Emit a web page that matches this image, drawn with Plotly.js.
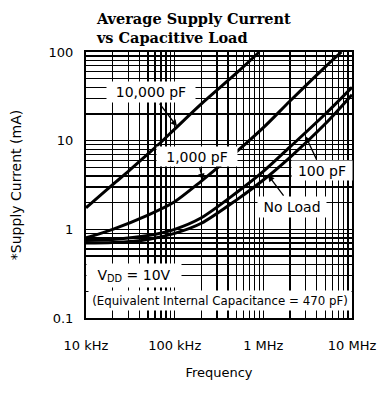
<!DOCTYPE html>
<html>
<head>
<meta charset="utf-8">
<script src="https://cdn.plot.ly/plotly-3.0.1.min.js"></script>
<style>html,body{margin:0;padding:0;background:#fff;}#chart{width:382px;height:394px;}</style>
</head>
<body>
<div id="chart"></div>
<script>
// Frequencies (Hz) and supply current (mA)
const freq10000 = [1e4, 2e4, 3e4, 5e4, 7e4, 1e5, 2e5, 5e5, 9e5];
const cur10000  = [1.75, 3.2, 4.5, 7.1, 9.6, 13.5, 26, 58, 100];

const freq1000 = [1e4, 2e4, 5e4, 1e5, 2e5, 5e5, 1e6, 2e6, 5e6, 7.6e6];
const cur1000  = [0.8, 1.0, 1.45, 2.05, 3.5, 7.5, 14, 28, 68, 100];

const freq100 = [1e4, 2e4, 5e4, 1e5, 2e5, 5e5, 1e6, 2e6, 5e6, 1e7];
const cur100  = [0.75, 0.77, 0.85, 1.0, 1.35, 2.6, 4.5, 8.5, 20, 40];

const freqNoLoad = [1e4, 2e4, 5e4, 1e5, 2e5, 5e5, 1e6, 2e6, 5e6, 1e7];
const curNoLoad  = [0.70, 0.71, 0.77, 0.9, 1.17, 2.15, 3.6, 6.5, 15.5, 33];

const xTickDecades = [1e4, 1e5, 1e6, 1e7];
const xTickLabels = ['10 kHz', '100 kHz', '1 MHz', '10 MHz'];
const yTickDecades = [0.1, 1, 10, 100];
const yTickLabels = ['0.1', '1', '10', '100'];

function gridVals(decades) {
  const v = [];
  for (let i = 0; i < decades.length - 1; i++) {
    for (let k = 1; k <= 9; k++) v.push(decades[i] * k);
  }
  v.push(decades[decades.length - 1]);
  return v;
}
function gridText(vals, decades, labels) {
  return vals.map(v => {
    const idx = decades.findIndex(d => Math.abs(d - v) / d < 1e-9);
    return idx >= 0 ? labels[idx] : '';
  });
}
const xVals = gridVals(xTickDecades);
const yVals = gridVals(yTickDecades);

const lineStyle = {color: '#000', width: 3, shape: 'spline', smoothing: 0.8};
const traces = [
  {x: freq10000, y: cur10000, mode: 'lines', line: lineStyle, name: '10,000 pF'},
  {x: freq1000, y: cur1000, mode: 'lines', line: lineStyle, name: '1,000 pF'},
  {x: freq100, y: cur100, mode: 'lines', line: lineStyle, name: '100 pF'},
  {x: freqNoLoad, y: curNoLoad, mode: 'lines', line: lineStyle, name: 'No Load'}
];

const lblFont = {family: 'DejaVu Sans', size: 14, color: '#000'};
function label(text, x, y, w, h, size) {
  return {text: text, x: x, y: y, xref: 'x', yref: 'y', showarrow: false,
          bgcolor: '#fff', width: w, height: h, borderpad: 0,
          font: Object.assign({}, lblFont, size ? {size: size} : {})};
}
// label with arrow: tip at (x, y) in log data units, label centre offset (ax, ay) px
function pointer(text, x, y, ax, ay, w, h) {
  return {text: text, x: x, y: y, xref: 'x', yref: 'y', showarrow: true,
          ax: ax, ay: ay, arrowhead: 2, arrowsize: 1, arrowwidth: 1.3,
          arrowcolor: '#000', standoff: 0, startstandoff: 1,
          bgcolor: '#fff', width: w, height: h, borderpad: 0, font: lblFont};
}

const annotations = [
  pointer('10,000 pF', Math.log10(1.06e5), Math.log10(14.5), -26, -34, 88, 20),
  pointer('1,000 pF', Math.log10(2.08e5), Math.log10(3.6), -6, -24, 80, 19),
  pointer('100 pF', Math.log10(3.0e6), Math.log10(11.2), 16, 34, 60, 19),
  pointer('No Load', Math.log10(1.13e6), Math.log10(4.1), 24, 32, 68, 20),
  label('V<sub>DD</sub> = 10V', 4.541, -0.525, 94, 23),
  label('(Equivalent Internal Capacitance = 470 pF)', 5.511, -0.807, 262, 19, 11.8)
];

const layout = {
  width: 382, height: 394,
  margin: {l: 86, r: 30, t: 52, b: 76},
  paper_bgcolor: '#fff', plot_bgcolor: '#fff',
  showlegend: false,
  font: {family: 'DejaVu Sans', color: '#000'},
  title: {
    text: 'Average Supply Current<br>vs Capacitive Load',
    font: {family: 'DejaVu Serif', size: 14.5, weight: 'bold', color: '#000'},
    xref: 'paper', x: 0.041, xanchor: 'left',
    yref: 'container', y: 0.939, yanchor: 'top'
  },
  xaxis: {
    type: 'log', range: [4, 7],
    tickvals: xVals, ticktext: gridText(xVals, xTickDecades, xTickLabels),
    showgrid: true, gridcolor: '#000', gridwidth: 1.4,
    showline: true, mirror: true, linecolor: '#000', linewidth: 2,
    ticks: '', zeroline: false, ticklabelstandoff: 14,
    tickfont: {family: 'DejaVu Sans', size: 13, color: '#000'},
    title: {text: 'Frequency', font: {family: 'DejaVu Sans', size: 13, color: '#000'}, standoff: 16}
  },
  yaxis: {
    type: 'log', range: [-1, 2],
    tickvals: yVals, ticktext: gridText(yVals, yTickDecades, yTickLabels),
    showgrid: true, gridcolor: '#000', gridwidth: 1.4,
    showline: true, mirror: true, linecolor: '#000', linewidth: 2,
    ticks: '', zeroline: false, ticklabelstandoff: 8,
    tickfont: {family: 'DejaVu Sans', size: 13, color: '#000'},
    title: {text: '*Supply Current (mA)', font: {family: 'DejaVu Sans', size: 14, color: '#000'}, standoff: 24}
  },
  annotations: annotations
};

Plotly.newPlot('chart', traces, layout, {staticPlot: true, displayModeBar: false});
</script>
</body>
</html>
